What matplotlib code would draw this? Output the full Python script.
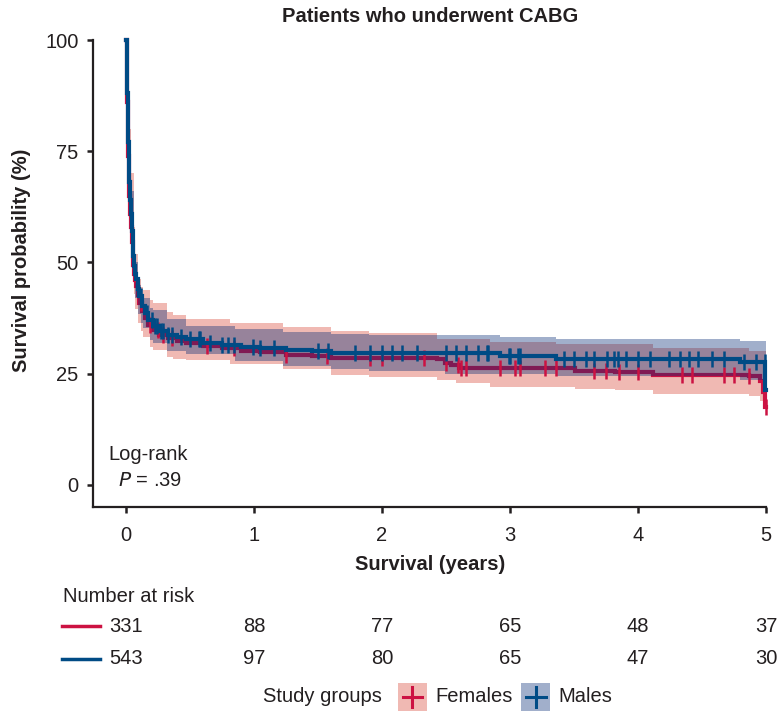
import numpy as np
import matplotlib
matplotlib.use("Agg")
import matplotlib.pyplot as plt
from matplotlib import transforms
from matplotlib.patches import Rectangle
from matplotlib.lines import Line2D

plt.rcParams['font.family'] = ['Liberation Sans', 'DejaVu Sans']

# ---------------- data ----------------
groups = ["Females", "Males"]

t_f = [0, 0.004, 0.008, 0.012, 0.016, 0.020, 0.024, 0.030, 0.036, 0.044, 0.052, 0.058,
       0.065, 0.072, 0.078, 0.090, 0.104, 0.125, 0.148, 0.175, 0.21, 0.26, 0.33, 0.40,
       0.47, 0.60, 0.75, 0.90, 1.05, 1.25, 1.45, 1.60, 2.43, 2.49, 2.54, 2.60, 3.51,
       3.82, 4.12, 4.87, 4.95, 4.98, 4.995, 5.0]
s_f = [100, 93, 86, 80, 74, 69, 65, 61, 58, 54.5, 51.5, 49.5,
       47.5, 46, 44.8, 42.8, 41, 39, 37.5, 36, 34.8, 33.8, 33, 32.4,
       32, 31.3, 30.7, 30.2, 29.8, 29.3, 28.9, 28.5, 28.2, 27.4, 26.9, 26.4, 25.7,
       25.4, 24.8, 24.4, 23.3, 21.0, 17.6, 17.6]

t_m = [0, 0.004, 0.008, 0.012, 0.016, 0.020, 0.024, 0.030, 0.036, 0.044, 0.052, 0.058,
       0.065, 0.072, 0.078, 0.090, 0.104, 0.125, 0.148, 0.175, 0.21, 0.26, 0.33, 0.40,
       0.47, 0.60, 0.75, 0.90, 1.05, 1.25, 1.45, 1.60, 2.92, 3.36, 4.80, 4.995, 5.0]
s_m = [100, 94, 88, 82, 77, 72, 68, 64, 61, 57, 54, 51.5,
       49.2, 47.5, 46.2, 44, 42.4, 40.3, 38.7, 37, 35.7, 34.6, 33.8, 33.2,
       32.7, 32, 31.5, 31, 30.7, 30.3, 30, 29.7, 28.9, 28.4, 27.6, 21.4, 21.4]

f_ci_t = [0, 0.02, 0.04, 0.06, 0.07, 0.094, 0.12, 0.135, 0.19, 0.21, 0.32, 0.37, 0.47,
          0.81, 1.23, 1.6, 1.9, 2.43, 2.58, 2.84, 3.36, 3.51, 3.82, 4.12, 4.87, 4.95, 5.0]
f_ci_lo = [100, 62, 52, 43, 39.5, 36.5, 34.5, 33.2, 30.9, 30.4, 28.8, 28.4, 28.1,
           27.2, 26.0, 24.7, 24.3, 23.5, 22.9, 22.1, 22.1, 21.5, 21.4, 20.4, 19.9, 18.8, 18.8]
f_ci_hi = [100, 80, 70, 58, 52, 46.2, 44.5, 43.9, 41.5, 41, 38.8, 38.3, 37.4,
           36.5, 35.4, 34.6, 34.2, 32.7, 32.7, 32.1, 31.7, 31.7, 31.7, 30.8, 30.0, 30.0, 30.0]

m_ci_t = [0, 0.02, 0.04, 0.06, 0.07, 0.094, 0.12, 0.135, 0.19, 0.21, 0.32, 0.47, 0.85,
          1.23, 1.6, 1.9, 2.49, 2.92, 3.36, 4.8, 5.0]
m_ci_lo = [100, 66, 56, 46, 42, 38.5, 36.5, 35.3, 32.6, 32.0, 30.2, 29.5, 27.8,
           26.8, 26.0, 25.7, 25.0, 25.0, 24.4, 23.6, 23.6]
m_ci_hi = [100, 76, 66, 55, 50, 45, 43, 42, 39.8, 39.3, 37.2, 35.8, 35.0,
           34.3, 33.9, 33.8, 33.8, 33.3, 32.9, 32.3, 32.3]

cens_f = [0.07, 0.12, 0.19, 0.25, 0.29, 0.36, 0.63, 0.84, 1.25, 1.57, 1.91, 2.0, 2.33,
          2.5, 2.59, 2.62, 2.66, 2.92, 3.04, 3.08, 3.27, 3.36, 3.66, 3.75, 3.85, 4.0,
          4.34, 4.42, 4.67, 4.75, 4.87, 5.0]
cens_m = [0.12, 0.16, 0.20, 0.23, 0.24, 0.27, 0.29, 0.33, 0.36, 0.43, 0.50, 0.57, 0.58,
          0.66, 0.75, 0.80, 0.84, 0.99, 1.05, 1.16, 1.50, 1.58, 1.79, 1.91, 2.0, 2.08,
          2.16, 2.27, 2.5, 2.58, 2.66, 2.75, 2.82, 2.83, 2.99, 3.0, 3.06, 3.08, 3.42,
          3.5, 3.59, 3.66, 3.76, 3.81, 3.84, 3.91, 4.0, 4.09, 4.24, 4.33, 4.40, 4.47,
          4.58, 4.67, 4.83, 4.92, 4.99]

risk_times = [0, 1, 2, 3, 4, 5]
risk_f = [331, 88, 77, 65, 48, 37]
risk_m = [543, 97, 80, 65, 47, 30]

x_ticks = [0, 1, 2, 3, 4, 5]
y_ticks = [0, 25, 50, 75, 100]

# ---------------- style ----------------
C_F = '#CC1242'
C_M = '#004B85'
C_F_BAND = '#F0B9B3'
C_M_BAND = '#002874'
M_ALPHA = 0.37
TXT = '#231F20'

def step_val(t_arr, s_arr, tq):
    t_arr = np.asarray(t_arr); s_arr = np.asarray(s_arr)
    idx = np.searchsorted(t_arr, tq, side='right') - 1
    return s_arr[np.clip(idx, 0, len(s_arr) - 1)]

fig = plt.figure(figsize=(7.81, 7.11), dpi=100)
ax = fig.add_axes([93/781, 1 - 507/711, (766 - 93)/781, (507 - 40)/711])

# female band and line
ax.fill_between(f_ci_t, f_ci_lo, f_ci_hi, step='post', color=C_F_BAND, lw=0, zorder=1)
ax.plot(t_f, s_f, drawstyle='steps-post', color=C_F, lw=3, zorder=2, clip_on=False,
        solid_joinstyle='miter')
# male band
ax.fill_between(m_ci_t, m_ci_lo, m_ci_hi, step='post', color=C_M_BAND, alpha=M_ALPHA,
                lw=0, zorder=3)
# female censors
ax.plot(cens_f, step_val(t_f, s_f, cens_f), ls='none', marker='|', ms=11.5, mew=1.8,
        color=C_F, zorder=4, clip_on=False)
# male line and censors
ax.plot(t_m, s_m, drawstyle='steps-post', color=C_M, lw=3, zorder=5, clip_on=False,
        solid_joinstyle='miter')
ax.plot(cens_m, step_val(t_m, s_m, cens_m), ls='none', marker='|', ms=11.5, mew=1.8,
        color=C_M, zorder=6, clip_on=False)

ax.set_xlim(-0.258, 5.0)
ax.set_ylim(-4.95, 100)
ax.set_xticks(x_ticks)
ax.set_yticks(y_ticks)
ax.set_xticklabels([str(v) for v in x_ticks])
ax.set_yticklabels([str(v) for v in y_ticks])
for s in ['top', 'right']:
    ax.spines[s].set_visible(False)
for s in ['left', 'bottom']:
    ax.spines[s].set_linewidth(1.6)
    ax.spines[s].set_color(TXT)
ax.tick_params(axis='both', direction='out', length=4.5, width=1.8, color=TXT,
               labelsize=14.5, labelcolor=TXT)
ax.tick_params(axis='x', pad=9)
ax.tick_params(axis='y', pad=6)

fig.text(430/781, 1 - 17/711, 'Patients who underwent CABG', ha='center', va='center',
         fontsize=14.5, fontweight='bold', color=TXT)
fig.text(430/781, 1 - 565/711, 'Survival (years)', ha='center', va='center',
         fontsize=14.5, fontweight='bold', color=TXT)
fig.text(22/781, 1 - 260/711, 'Survival probability (%)', ha='center', va='center',
         rotation=90, fontsize=14.5, fontweight='bold', color=TXT)

fig.text(108/781, 1 - 455/711, 'Log-rank', ha='left', va='center', fontsize=14.5, color=TXT)
fig.text(118/781, 1 - 481/711, r'$P$ = .39', ha='left', va='center', fontsize=14.5, color=TXT)
plt.rcParams['mathtext.fontset'] = 'custom'

# number at risk
bt = transforms.blended_transform_factory(ax.transData, fig.transFigure)
fig.text(63/781, 1 - 596/711, 'Number at risk', ha='left', va='center', fontsize=14.5, color=TXT)
for row_y, vals, col in [(626, risk_f, C_F), (659, risk_m, C_M)]:
    yy = 1 - row_y / 711
    fig.add_artist(Line2D([62/781, 100/781], [yy, yy], transform=fig.transFigure,
                          color=col, lw=2.5))
    for tt, v in zip(risk_times, vals):
        fig.text(tt, yy, str(v), transform=bt, ha='center', va='center',
                 fontsize=14.5, color=TXT)

# legend
ly = 1 - 697/711
fig.text(382/781, ly, 'Study groups', ha='right', va='center', fontsize=14.5, color=TXT)
for x0, band, alpha, col, lab in [(398, C_F_BAND, 1.0, C_F, groups[0]),
                                  (521, C_M_BAND, M_ALPHA, C_M, groups[1])]:
    fig.add_artist(Rectangle((x0/781, 1 - 711/711), 29/781, 28/711, transform=fig.transFigure,
                             facecolor=band, alpha=alpha, lw=0))
    cx = (x0 + 14.5) / 781
    fig.add_artist(Line2D([cx - 10/781, cx + 10/781], [ly, ly], transform=fig.transFigure,
                          color=col, lw=2.2))
    fig.add_artist(Line2D([cx, cx], [ly - 10/711, ly + 10/711], transform=fig.transFigure,
                          color=col, lw=2.2))
    fig.text((x0 + 37)/781, ly, lab, ha='left', va='center', fontsize=14.5, color=TXT)

fig.savefig('out.png', dpi=100)
